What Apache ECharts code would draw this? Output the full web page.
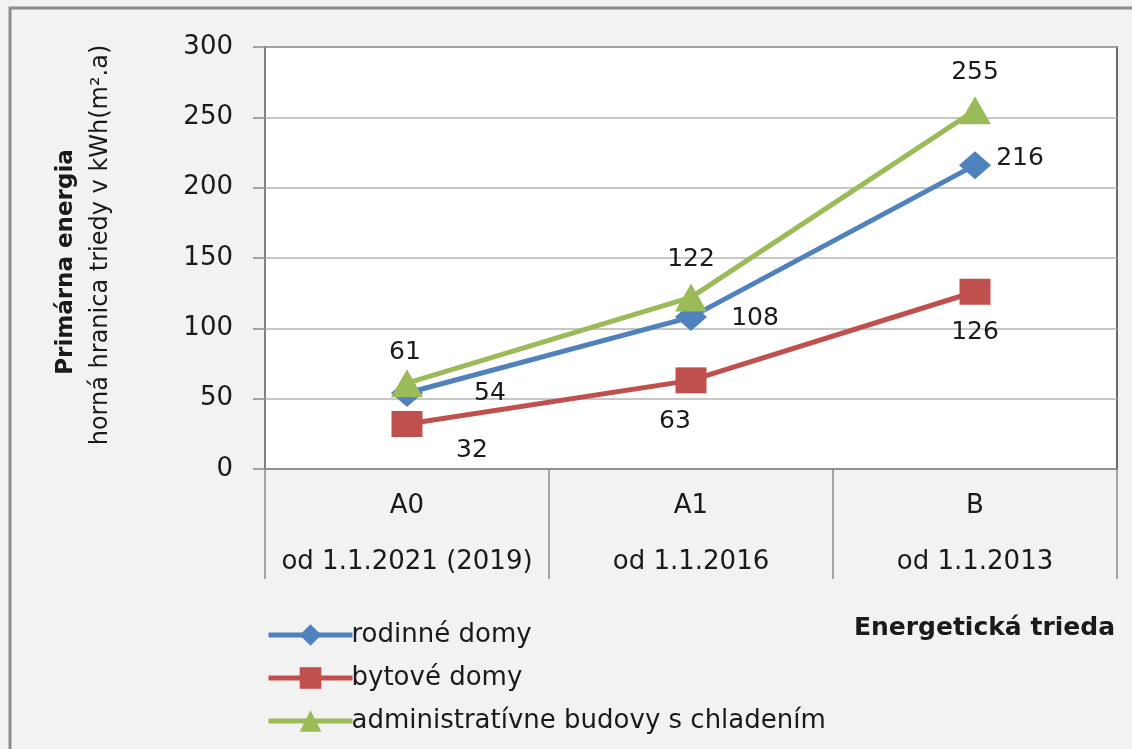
<!DOCTYPE html>
<html>
<head>
<meta charset="utf-8">
<script src="https://cdn.jsdelivr.net/npm/echarts@6/dist/echarts.min.js"></script>
<style>
  html, body { margin: 0; padding: 0; background: #f2f2f2; }
  #chart { width: 1132px; height: 749px; }
</style>
</head>
<body>
<div id="chart"></div>
<script>
// energeticke triedy a datumy platnosti
const triedy = ['A0', 'A1', 'B'];
const platnost = ['od 1.1.2021 (2019)', 'od 1.1.2016', 'od 1.1.2013'];

// horna hranica triedy, kWh/(m2.a)
const rodinneDomy = [54, 108, 216];
const bytoveDomy = [32, 63, 126];
const administrativne = [61, 122, 255];

const yTicks = { min: 0, max: 300, interval: 50 };

const fontMain = 'DejaVu Sans';
const textCol = '#1a1a1a';

// posuny popiskov (styl, nie data)
const shiftRodinne = [[83, 0], [64, 1], [45, -7]];
const shiftBytove = [[65, 27], [-16, 41], [0, 41]];
const shiftAdmin = [[-2, -31], [0, -38], [0, -38]];

function withLabels(values, shifts) {
  return values.map((v, i) => ({ value: v, label: { offset: shifts[i] } }));
}

const myChart = echarts.init(document.getElementById('chart'));

myChart.setOption({
  backgroundColor: '#f2f2f2',
  textStyle: { fontFamily: fontMain },
  grid: {
    left: 265, right: 15, top: 47, height: 422,
    show: true, backgroundColor: '#ffffff',
    borderColor: '#3a3a3a', borderWidth: 1.5
  },
  graphic: [
    {
      type: 'rect', z: -1,
      shape: { x: 10, y: 8, width: 1140, height: 760 },
      style: { fill: '#f2f2f2', stroke: '#8c8c8c', lineWidth: 3 }
    },
    {
      type: 'text', x: 66, y: 262, rotation: Math.PI / 2,
      style: {
        text: 'Primárna energia', fill: textCol,
        font: 'bold 23px "DejaVu Sans"', align: 'center', verticalAlign: 'middle'
      }
    },
    {
      type: 'text', x: 101, y: 245, rotation: Math.PI / 2,
      style: {
        text: 'horná hranica triedy v kWh(m².a)', fill: textCol,
        font: '24px "DejaVu Sans"', align: 'center', verticalAlign: 'middle'
      }
    },
    {
      type: 'text', x: 1115, y: 628,
      style: {
        text: 'Energetická trieda', fill: textCol,
        font: 'bold 25px "DejaVu Sans"', align: 'right', verticalAlign: 'middle'
      }
    }
  ],
  legend: {
    orient: 'vertical',
    left: 261, top: 617, height: 220,
    itemWidth: 84, itemHeight: 27, itemGap: 17,
    lineStyle: { width: 5 },
    textStyle: {
      fontSize: 26, color: textCol, fontFamily: fontMain,
      padding: [0, 0, 0, -6]
    },
    data: ['rodinné domy', 'bytové domy', 'administratívne budovy s chladením']
  },
  xAxis: {
    type: 'category',
    data: triedy.map((t, i) => t + '\n' + platnost[i]),
    boundaryGap: true,
    axisLine: { lineStyle: { color: '#8a8a8a', width: 1.5 } },
    axisTick: { show: true, length: 110, lineStyle: { color: '#8a8a8a', width: 1.5 } },
    axisLabel: {
      color: textCol, fontSize: 26, lineHeight: 56, margin: 9, interval: 0
    }
  },
  yAxis: {
    type: 'value',
    min: yTicks.min, max: yTicks.max, interval: yTicks.interval,
    axisLine: { show: true, lineStyle: { color: '#8a8a8a', width: 1.5 } },
    axisTick: { show: true, inside: false, length: 12, lineStyle: { color: '#8a8a8a', width: 1.5 } },
    axisLabel: { color: textCol, fontSize: 26, margin: 32 },
    splitLine: { lineStyle: { color: '#b4b4b4', width: 1.5 } }
  },
  series: [
    {
      name: 'rodinné domy',
      type: 'line',
      data: withLabels(rodinneDomy, shiftRodinne),
      symbol: 'diamond', symbolSize: [32, 28],
      color: '#4f81bd',
      lineStyle: { width: 5 },
      z: 3,
      label: { show: true, position: 'inside', color: textCol, fontSize: 25 }
    },
    {
      name: 'bytové domy',
      type: 'line',
      data: withLabels(bytoveDomy, shiftBytove),
      symbol: 'rect', symbolSize: [31, 26],
      color: '#c0504d',
      lineStyle: { width: 5 },
      z: 2,
      label: { show: true, position: 'inside', color: textCol, fontSize: 25 }
    },
    {
      name: 'administratívne budovy s chladením',
      type: 'line',
      data: withLabels(administrativne, shiftAdmin),
      symbol: 'triangle', symbolSize: [32, 28],
      color: '#9bbb59',
      lineStyle: { width: 5 },
      z: 4,
      label: { show: true, position: 'inside', color: textCol, fontSize: 25 }
    }
  ],
  animation: false
});
</script>
</body>
</html>
